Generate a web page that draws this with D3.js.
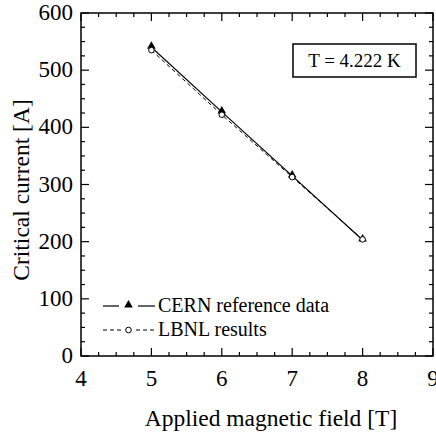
<!DOCTYPE html>
<html><head><meta charset="utf-8">
<script src="https://cdn.jsdelivr.net/npm/d3@7"></script>
</head><body><svg id="c" width="436" height="439"></svg>
<script>
const fields = [5, 6, 7, 8];
const cernValues = [540, 427, 315, 203];
const lbnlValues = [535, 422, 313, 204];
const xTicks = [4, 5, 6, 7, 8, 9];
const yTicks = [0, 100, 200, 300, 400, 500, 600];
const seriesNames = ["CERN reference data", "LBNL results"];
const annotation = "T = 4.222 K";

d3.select("body").style("margin", "0px");
d3.select("#c").style("display", "block");
const FAM = "Liberation Serif";
const svg = d3.select("#c");
const L = 81, R = 433, T = 13, B = 356;
const x = d3.scaleLinear().domain([4, 9]).range([L, R]);
const y = d3.scaleLinear().domain([0, 600]).range([B, T]);

svg.append("rect").attr("x", L).attr("y", T).attr("width", R - L).attr("height", B - T)
  .attr("fill", "none").attr("stroke", "#000").attr("stroke-width", 1.5);

const xMinor = d3.range(4, 9.001, 0.25);
const yMinor = d3.range(0, 600.1, 25);
const g = svg.append("g").attr("stroke", "#000").attr("stroke-width", 1.2);
xMinor.forEach(v => {
  const major = Math.abs(v - Math.round(v)) < 1e-6;
  const len = major ? 8 : 4;
  g.append("line").attr("x1", x(v)).attr("x2", x(v)).attr("y1", B).attr("y2", B - len);
  g.append("line").attr("x1", x(v)).attr("x2", x(v)).attr("y1", T).attr("y2", T + len);
});
yMinor.forEach(v => {
  const major = v % 100 === 0;
  const len = major ? 8 : 4;
  g.append("line").attr("y1", y(v)).attr("y2", y(v)).attr("x1", L).attr("x2", L + len);
  g.append("line").attr("y1", y(v)).attr("y2", y(v)).attr("x1", R).attr("x2", R - len);
});

const serif = sel => sel.style("font-family", () => `"${FAM}"`);

svg.append("g").selectAll("text").data(xTicks).join("text")
  .attr("x", d => x(d)).attr("y", B + 30).attr("text-anchor", "middle")
  .attr("font-size", 23).text(d => d).call(serif);
svg.append("g").selectAll("text").data(yTicks).join("text")
  .attr("x", L - 8).attr("y", d => y(d) + 7).attr("text-anchor", "end")
  .attr("font-size", 23).text(d => d).call(serif);

svg.append("text").attr("x", 271).attr("y", 426).attr("text-anchor", "middle")
  .attr("font-size", 23.5).text("Applied magnetic field [T]").call(serif);
svg.append("text").attr("transform", "translate(29,190) rotate(-90)")
  .attr("text-anchor", "middle").attr("font-size", 23.5).text("Critical current [A]").call(serif);

const cern = fields.map((f, i) => [f, cernValues[i]]);
const lbnl = fields.map((f, i) => [f, lbnlValues[i]]);
const line = d3.line().x(d => x(d[0])).y(d => y(d[1]));
svg.append("path").attr("d", line(lbnl)).attr("fill", "none").attr("stroke", "#000")
  .attr("stroke-width", 1).attr("stroke-dasharray", "4,3");
svg.append("path").attr("d", line(cern)).attr("fill", "none").attr("stroke", "#000")
  .attr("stroke-width", 1.2);
const tri = d3.symbol().type(d3.symbolTriangle).size(32);
svg.append("g").selectAll("path").data(cern).join("path")
  .attr("transform", d => `translate(${x(d[0])},${y(d[1]) - 1})`).attr("d", tri)
  .attr("fill", "#000");
svg.append("g").selectAll("circle").data(lbnl).join("circle")
  .attr("cx", d => x(d[0])).attr("cy", d => y(d[1])).attr("r", 2.8)
  .attr("fill", "#fff").attr("stroke", "#000").attr("stroke-width", 1);

const lg = svg.append("g");
const ly1 = 306, ly2 = 330;
lg.append("line").attr("x1", 103).attr("x2", 119).attr("y1", ly1).attr("y2", ly1).attr("stroke", "#000").attr("stroke-width", 1.2);
lg.append("line").attr("x1", 138).attr("x2", 155).attr("y1", ly1).attr("y2", ly1).attr("stroke", "#000").attr("stroke-width", 1.2);
lg.append("path").attr("transform", `translate(128.5,${ly1 - 1})`).attr("d", tri).attr("fill", "#000");
lg.append("line").attr("x1", 103).attr("x2", 121).attr("y1", ly2).attr("y2", ly2).attr("stroke", "#000").attr("stroke-dasharray", "4,3");
lg.append("line").attr("x1", 136).attr("x2", 155).attr("y1", ly2).attr("y2", ly2).attr("stroke", "#000").attr("stroke-dasharray", "4,3");
lg.append("circle").attr("cx", 128.5).attr("cy", ly2).attr("r", 2.8).attr("fill", "#fff").attr("stroke", "#000");
lg.selectAll("text").data(seriesNames).join("text")
  .attr("x", 158).attr("y", (d, i) => (i ? ly2 : ly1) + 6).attr("font-size", 20).text(d => d).call(serif);

svg.append("rect").attr("x", 293).attr("y", 44).attr("width", 123).attr("height", 33)
  .attr("fill", "#fff").attr("stroke", "#000").attr("stroke-width", 1.5);
svg.append("text").attr("x", 354.5).attr("y", 67).attr("text-anchor", "middle")
  .attr("font-size", 19).text(annotation).call(serif);
</script></body></html>
